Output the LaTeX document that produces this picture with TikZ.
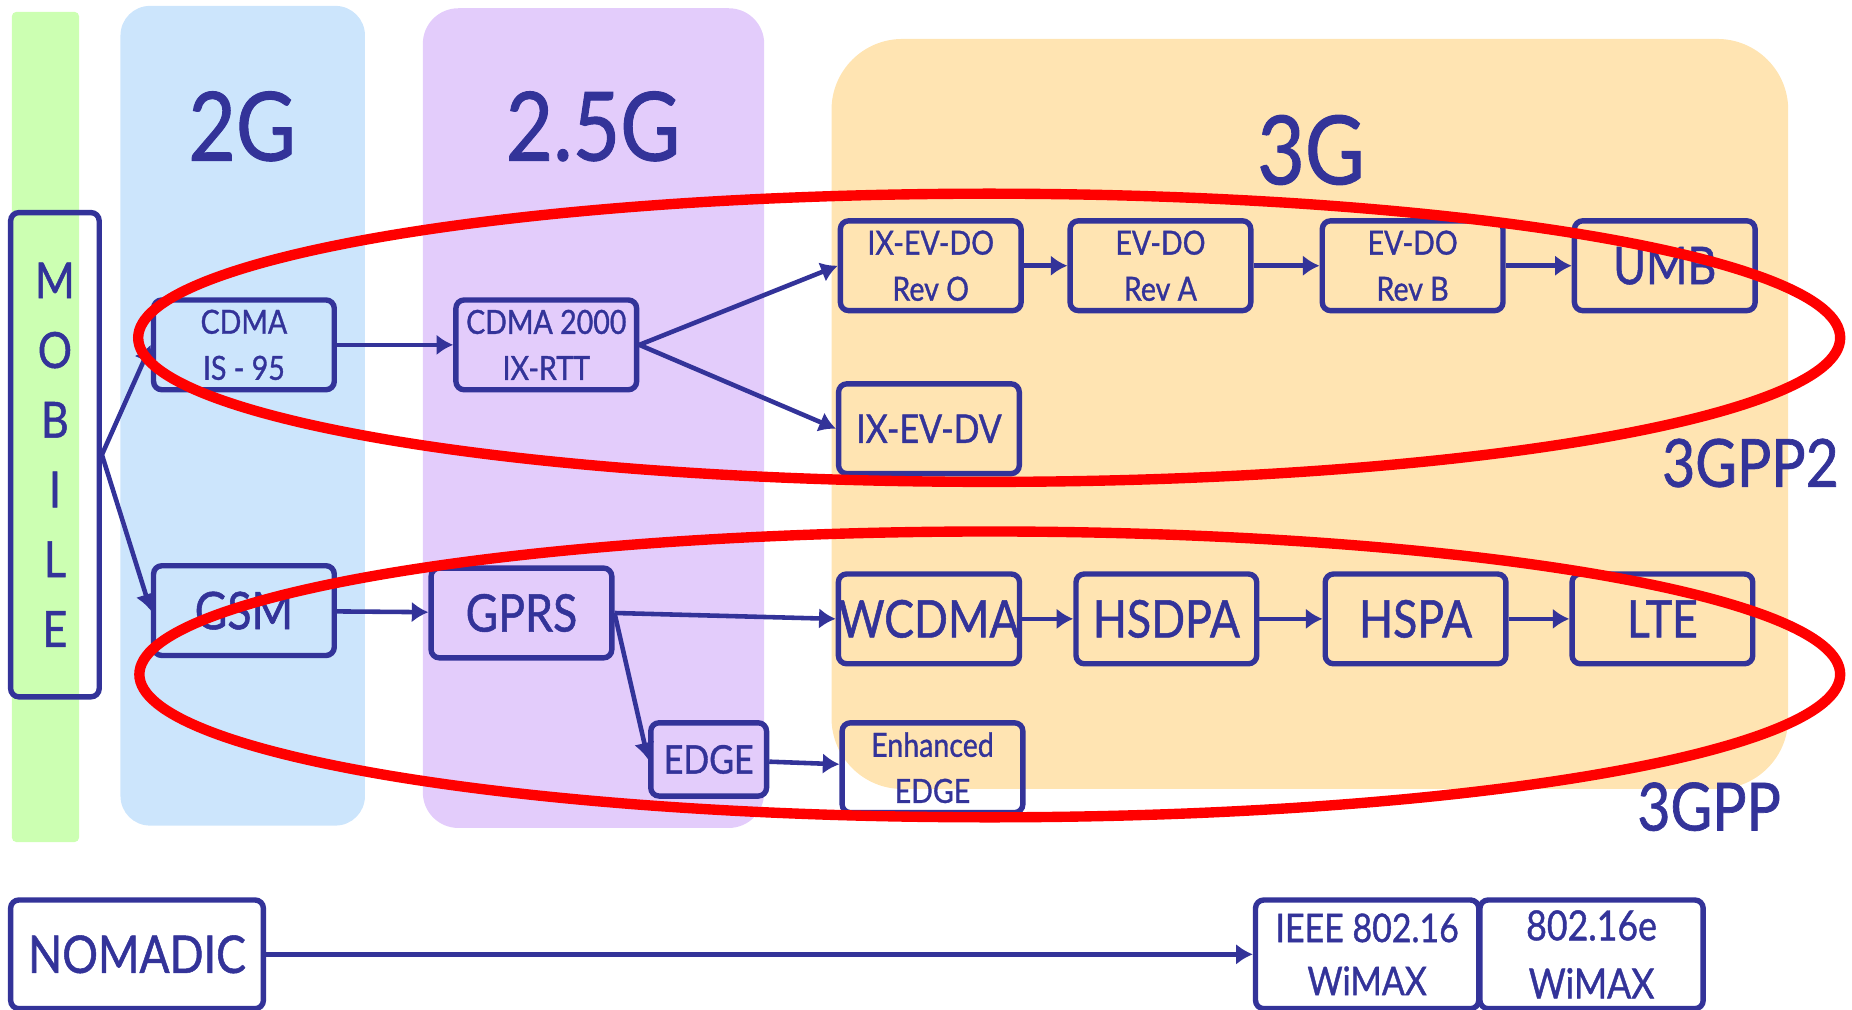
\documentclass[tikz,border=0pt]{standalone}
\usepackage{fontspec}
\setmainfont[FakeStretch=0.86, FakeBold=1]{Lato}
\usepackage{tikz}
\usetikzlibrary{arrows.meta}

\definecolor{navy}{RGB}{51,51,153}
\definecolor{mobgreen}{RGB}{204,255,178}
\definecolor{gtwo}{RGB}{204,229,252}
\definecolor{gtwohalf}{RGB}{227,204,251}
\definecolor{gthree}{RGB}{255,228,178}

\tikzset{
  box/.style={draw=navy, line width=1.3pt, rounded corners=0.7mm, inner sep=0pt,
    minimum width=15.3mm, minimum height=7.6mm, text=navy, align=center,
    font=\fontsize{12.5}{14}\selectfont},
  twoline/.style={font=\fontsize{8}{11.1}\selectfont},
  link/.style={draw=navy, line width=1.1pt},
  gen/.style={text=navy, font=\fontsize{23}{24}\selectfont},
  group/.style={text=navy, font=\fontsize{16}{18}\selectfont},
  ring/.style={draw=red, line width=2.5pt},
  >={Latex[length=4pt,width=5pt]}
}

\begin{document}
\begin{tikzpicture}[x=0.1mm, y=-0.1mm]
\useasboundingbox (0,0) rectangle (1568,855);

% generation bands
\fill[mobgreen, rounded corners=0.4mm] (10,10) rectangle (67,713);
\fill[gtwo, rounded corners=2.5mm] (102,5) rectangle (309,699);
\fill[gtwohalf, rounded corners=3mm] (358,7) rectangle (647,701);
\fill[gthree, rounded corners=6mm] (704,33) rectangle (1514,668);

\node (l2g) at (205,107) [gen] {2G};
\node (l25g) at (502,107) [gen] {2.5G};
\node (l3g) at (1110,127) [gen] {3G};

% mobile
\node (mob) at (46.5,385) [box, minimum width=7.5mm, minimum height=41mm,
  font=\fontsize{12}{16.8}\selectfont] {M\\O\\B\\I\\L\\E};

\node (cdma) at (206.5,292) [box, twoline] {CDMA\\IS - 95};
\node (c2k) at (462.5,292) [box, twoline] {CDMA 2000\\IX-RTT} edge[link,<-] (cdma);

	\node (evdo) at (788,225) [box, twoline] {IX-EV-DO\\Rev O};
	\node (evdoa) at (982.5,225) [box, twoline] {EV-DO\\Rev A} edge[link,<-] (evdo);
	\node (evdob) at (1196,225) [box, twoline] {EV-DO\\Rev B} edge[link,<-] (evdoa);
	\node (umb) at (1409.5,225) [box] {UMB} edge[link,<-] (evdob);
	\node (evdv) at (786.5,363) [box, font=\fontsize{9.5}{11}\selectfont] {IX-EV-DV};

\node (gsm) at (206.5,517) [box] {GSM};
\node (gprs) at (441.5,519) [box] {GPRS} edge[link,<-] (gsm);

	\node (wcdma) at (786.5,524) [box] {WCDMA};
	\node (hsdpa) at (987.5,524) [box] {HSDPA} edge[link,<-] (wcdma);
	\node (hspa) at (1198.5,524) [box] {HSPA} edge[link,<-] (hsdpa);
	\node (lte) at (1407.5,524) [box] {LTE} edge[link,<-] (hspa);

	\node (edge) at (600,643) [box, minimum width=9.8mm, minimum height=6.2mm,
	  font=\fontsize{9.5}{11}\selectfont] {EDGE};
	\node (eedge) at (789.5,650) [box, twoline] {Enhanced\\EDGE} edge[link,<-] (edge);

\draw[link,->] (mob.east) -- (cdma.west);
\draw[link,->] (mob.east) -- (gsm.west);
\draw[link,->] (c2k.east) -- (evdo.west);
\draw[link,->] (c2k.east) -- (evdv.west);
\draw[link,->] (gprs.east) -- (wcdma.west);
\draw[link,->] (gprs.east) -- (edge.west);

% nomadic
\node (nom) at (116,808) [box, minimum width=21.4mm, minimum height=9.2mm] {NOMADIC};
\node (ieee) at (1157.5,808) [box, minimum width=18.9mm, minimum height=9.2mm,
  font=\fontsize{9.5}{12.8}\selectfont] {IEEE 802.16\\WiMAX} edge[link,<-] (nom);
\node (wimax) at (1347.5,808) [box, minimum width=18.9mm, minimum height=9.2mm,
  font=\fontsize{10}{14}\selectfont] {802.16e\\WiMAX};

% standard groups
\draw[ring] (837.5,286) ellipse [x radius=720.5, y radius=122];
\draw[ring] (838,571) ellipse [x radius=720, y radius=121];
\node (gpp2) at (1482,392) [group] {3GPP2};
\node (gpp) at (1447,683) [group] {3GPP};

\end{tikzpicture}
\end{document}
